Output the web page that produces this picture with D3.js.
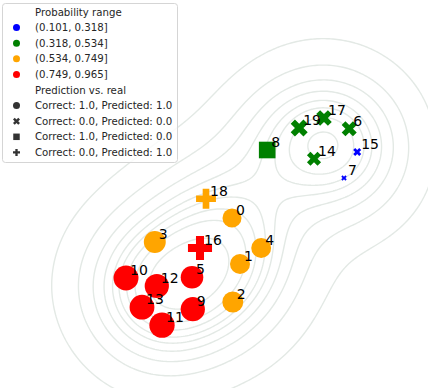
<!DOCTYPE html>
<html>
<head>
<meta charset="utf-8">
<script src="https://cdn.jsdelivr.net/npm/d3@7"></script>
<style>
  body { margin: 0; background: #fff; }
  svg { display: block; font-family: "DejaVu Sans", sans-serif; }
</style>
</head>
<body>
<svg id="chart"></svg>
<script>
// Point data (arbitrary feature units)
var ids = d3.range(20);
var xValues = [-0.20, 0.00, -0.18, -2.13, 0.53, -1.20, 2.73, 2.60, 0.68, -1.18,
               -2.85, -1.95, -2.08, -2.45, 1.85, 2.93, -1.00, 2.10, -0.85, 1.48];
var yValues = [0.05, -1.10, -2.05, -0.55, -0.70, -1.43, 2.28, 1.05, 1.75, -2.23,
               -1.45, -2.63, -1.65, -2.18, 1.53, 1.70, -0.70, 2.55, 0.53, 2.30];
var probs   = [0.57, 0.625, 0.68, 0.74, 0.62, 0.78, 0.38, 0.101, 0.45, 0.89,
               0.94, 0.965, 0.89, 0.93, 0.34, 0.15, 0.88, 0.40, 0.62, 0.47];
var correct   = [1, 1, 1, 1, 1, 1, 0, 0, 1, 1, 1, 1, 1, 1, 0, 0, 0, 0, 0, 0];
var predicted = [1, 1, 1, 1, 1, 1, 0, 0, 0, 1, 1, 1, 1, 1, 0, 0, 1, 0, 1, 0];

// legend categories
var probBins = ["(0.101, 0.318]", "(0.318, 0.534]", "(0.534, 0.749]", "(0.749, 0.965]"];
var binEdges = [0.318, 0.534, 0.749];
var binColors = ["blue", "green", "orange", "red"];
var styleLabels = ["Correct: 1.0, Predicted: 1.0", "Correct: 0.0, Predicted: 0.0",
                   "Correct: 1.0, Predicted: 0.0", "Correct: 0.0, Predicted: 1.0"];
var styleKinds = ["circle", "x", "square", "plus"];

var width = 428, height = 388;
var svg = d3.select("#chart").attr("width", width).attr("height", height);

var x = d3.scaleLinear().domain([-6, 4.7]).range([0, width]);
var y = d3.scaleLinear().domain([5.5, -4.2]).range([0, height]);
var colour = d3.scaleThreshold().domain(binEdges).range(binColors);
var area = d3.scaleLinear().domain([0.101, 0.965]).range([30, 640]);

function kindOf(i) {
  if (correct[i] == 1 && predicted[i] == 1) return "circle";
  if (correct[i] == 0 && predicted[i] == 0) return "x";
  if (correct[i] == 1 && predicted[i] == 0) return "square";
  return "plus";
}

var xPts = [[-1,-2],[0,-1],[1,-2],[2,-1],[1,0],[2,1],[1,2],[0,1],[-1,2],[-2,1],[-1,0],[-2,-1]];
var plusPts = [[-1,-3],[1,-3],[1,-1],[3,-1],[3,1],[1,1],[1,3],[-1,3],[-1,1],[-3,1],[-3,-1],[-1,-1]];

// side = full marker extent in px
function markerPath(kind, side) {
  if (kind == "circle") return d3.symbol(d3.symbolCircle, Math.PI * side * side / 4)();
  if (kind == "square") return d3.symbol(d3.symbolSquare, side * side)();
  var pts = kind == "x" ? xPts : plusPts;
  var k = kind == "x" ? side / 4 : side / 6;
  return d3.line()(pts.map(function(p) { return [p[0] * k, p[1] * k]; })) + "Z";
}

// --- KDE contours (gaussian kernel, bandwidth in data units) ---
var bandwidth = 1.12;
var px = ids.map(function(i) { return x(xValues[i]); });
var py = ids.map(function(i) { return y(yValues[i]); });
var n = ids.length;
var bx = x(bandwidth) - x(0), by = y(0) - y(bandwidth);

var step = 2, x0 = -200, y0 = -200;
var nx = Math.ceil((width + 400) / step), ny = Math.ceil((height + 400) / step);
var grid = new Float64Array(nx * ny);
for (var j = 0; j < ny; j++) {
  var gy = y0 + (j + 0.5) * step;
  for (var i = 0; i < nx; i++) {
    var gx = x0 + (i + 0.5) * step;
    var s = 0;
    for (var k = 0; k < n; k++) {
      var dx = (gx - px[k]) / bx, dy = (gy - py[k]) / by;
      s += Math.exp(-0.5 * (dx * dx + dy * dy));
    }
    grid[j * nx + i] = s;
  }
}

// iso-proportion levels like seaborn (levels=10, thresh=0.05)
var sorted = Array.from(grid).sort(function(p, q) { return q - p; });
var total = d3.sum(sorted);
var cum = [], run = 0;
sorted.forEach(function(v) { run += v; cum.push(run / total); });
var isoprops = d3.range(9).map(function(i) { return 0.05 + i * 0.95 / 9; });
var levels = isoprops.map(function(p) {
  return sorted[d3.bisectLeft(cum, 1 - p)];
});

var contours = d3.contours().size([nx, ny]).thresholds(levels)(grid);
var proj = d3.geoIdentity().scale(step).translate([x0, y0]);
svg.append("g")
    .attr("class", "kde")
  .selectAll("path")
  .data(contours)
  .join("path")
    .attr("d", d3.geoPath(proj))
    .attr("fill", "none")
    .attr("stroke", "#e3e9e5")
    .attr("stroke-width", 1.4);

// --- points ---
svg.append("g")
    .attr("class", "points")
  .selectAll("path")
  .data(ids)
  .join("path")
    .attr("transform", function(i) { return "translate(" + px[i] + "," + py[i] + ")"; })
    .attr("d", function(i) { return markerPath(kindOf(i), Math.sqrt(area(probs[i]))); })
    .attr("fill", function(i) { return colour(probs[i]); });

svg.append("g")
    .attr("class", "labels")
  .selectAll("text")
  .data(ids)
  .join("text")
    .attr("x", function(i) { return px[i] + 4; })
    .attr("y", function(i) { return py[i] - 3; })
    .style("font-size", "14px")
    .attr("fill", "#000")
    .text(function(i) { return i; });

// --- legend ---
var legend = svg.append("g").attr("class", "legend");
legend.append("rect")
    .attr("x", 2.5).attr("y", 3.5)
    .attr("width", 175).attr("height", 159)
    .attr("rx", 3)
    .attr("fill", "#fff").attr("fill-opacity", 0.8)
    .attr("stroke", "#d5d5d5");

var rows = [{ text: "Probability range" }]
  .concat(probBins.map(function(t, i) { return { text: t, kind: "circle", color: binColors[i] }; }))
  .concat([{ text: "Prediction vs. real" }])
  .concat(styleLabels.map(function(t, i) { return { text: t, kind: styleKinds[i], color: "#333" }; }));

rows.forEach(function(r, i) {
  var cy = 12 + i * 15.6;
  if (r.kind) {
    legend.append("path")
        .attr("transform", "translate(16.5," + cy + ")")
        .attr("d", markerPath(r.kind, r.kind == "square" ? 6.5 : 7))
        .attr("fill", r.color);
  }
  legend.append("text")
      .attr("x", 35)
      .attr("y", cy + 3.6)
      .style("font-size", "10.2px")
      .attr("fill", "#262626")
      .text(r.text);
});
</script>
</body>
</html>
